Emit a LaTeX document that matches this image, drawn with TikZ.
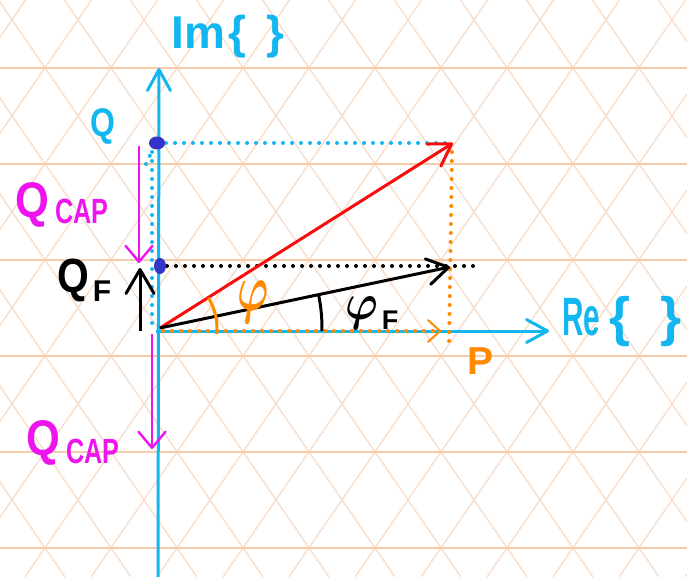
\documentclass[tikz,border=0pt]{standalone}
\usepackage{fontspec}
\setmainfont{Liberation Sans}
\usepackage{graphicx}
\usepackage{bm}
\usetikzlibrary{arrows.meta}
\definecolor{axcyan}{RGB}{20,182,240}
\definecolor{gridd}{RGB}{249,220,200}
\definecolor{gridh}{RGB}{246,204,170}
\definecolor{mag}{RGB}{238,20,238}
\definecolor{orng}{RGB}{255,138,0}
\definecolor{dotblue}{RGB}{52,52,200}
\definecolor{vred}{RGB}{250,12,12}
\tikzset{
  gridline/.style={draw=gridd, line width=1.3pt},
  gridhline/.style={draw=gridh, line width=1.7pt},
  axisline/.style={draw=axcyan, line width=3pt, -{Straight Barb[length=21pt,width=23pt,line width=3pt,round]}},
  vecline/.style={line width=3pt, -{Straight Barb[length=21pt,width=26pt,line width=3pt,round]}},
  magline/.style={draw=mag, line width=2.4pt, -{Straight Barb[length=16pt,width=27pt,line width=2.4pt,round]}},
  qfline/.style={draw=black, line width=3pt, -{Straight Barb[length=24pt,width=28pt,line width=3pt,round]}},
  dotline/.style={line width=4pt, line cap=round, dash pattern=on 0pt off 9pt},
  porarrow/.style={-{Straight Barb[length=12pt,width=22pt,line width=2pt,round]}},
  lbl/.style={inner sep=0pt, outer sep=0pt},
  blob/.style={fill=dotblue},
  anglearc/.style={line width=3pt}
}
\begin{document}
\begin{tikzpicture}[x=1pt,y=-1pt]
\useasboundingbox (0,0) rectangle (687,577);
% background grid
\begin{scope}
\clip (0,0) rectangle (687,577);
\fill[white] (0,0) rectangle (687,577);
\foreach \k in {-8,...,17} {
  \draw[gridline] ({45+66*\k-46.55},0) -- ({45+66*\k+350.1},577);
  \draw[gridline] ({45+66*\k+46.55},0) -- ({45+66*\k-350.1},577);
}
\foreach \yy in {67.7,163.7,259.7,355.7,451.7,547.7} {
  \draw[gridhline] (0,\yy) -- (687,\yy);
}
\end{scope}

% points
\coordinate (O) at (160,328);
\coordinate (imbot) at (158,577);
\coordinate (imtop) at (159,68);
\coordinate (restart) at (156,331);
\coordinate (reend) at (549,331);
\coordinate (S) at (453,143);
\coordinate (F) at (450,267);
\coordinate (P) at (441,331);
\coordinate (qd) at (157,143);
\coordinate (qfd) at (160,266);

% axes
\draw[axisline] (imbot) -- (imtop);
\draw[axisline] (restart) -- (reend);

% dotted projections
\coordinate (c1) at (166,143);
\draw[dotline, axcyan] (c1) -- (S);
\coordinate (c2) at (152,152);
\coordinate (c3) at (152,330);
\draw[dotline, axcyan] (c2) -- (c3);
\coordinate (c4) at (146,164);
\coordinate (c5) at (153,149);
\draw[dotline, axcyan] (c4) -- (c5);
\coordinate (b1) at (167,266);
\coordinate (b2) at (474,266);
\draw[dotline, black] (b1) -- (b2);
\coordinate (o1) at (452,152);
\coordinate (o2) at (449,347);
\draw[dotline, orng] (o1) -- (o2);
\coordinate (o3) at (163,331);
\draw[dotline, orng, porarrow] (o3) -- (P);

% vectors
\draw[vecline, vred] (O) -- (S);
\draw[vecline, black] (O) -- (F);

% reactive power arrows
\coordinate (m1) at (139,146);
\coordinate (m2) at (139,263);
\draw[magline] (m1) -- (m2);
\coordinate (m3) at (152,334);
\coordinate (m4) at (152,449);
\draw[magline] (m3) -- (m4);
\coordinate (k1) at (140,331);
\coordinate (k2) at (140,268);
\draw[qfline] (k1) -- (k2);

% blue dots
\fill[blob] (qd) ellipse [x radius=8, y radius=6.5];
\fill[blob] (qfd) ellipse [x radius=6, y radius=8];

% angle arcs
\draw[anglearc, orng] (O) ++(-32:57) arc[start angle=-32, end angle=6, radius=57];
\draw[anglearc, black] (O) ++(-12:162) arc[start angle=-12, end angle=1, radius=162];

% labels
\node[lbl, text=axcyan, font=\fontsize{46}{46}\selectfont\bfseries] (imlabel) at (228,37) {Im\hspace{4pt}\{\hspace{20pt}\}};
\node[lbl, text=axcyan, font=\fontsize{54}{54}\selectfont\bfseries] (relabel) at (622,322) {\scalebox{0.55}[1]{Re}\hspace{10pt}\{\hspace{30pt}\}};
\node[lbl, text=axcyan, font=\fontsize{40}{40}\selectfont\bfseries] (qlabel) at (103,126) {\scalebox{0.8}[1]{Q}};
\node[lbl, text=mag, font=\fontsize{50}{50}\selectfont\bfseries] (qcap1) at (32,205) {\scalebox{0.87}[1]{Q}};
\node[lbl, text=mag, font=\fontsize{35}{35}\selectfont\bfseries] (cap1) at (82,211) {\scalebox{0.72}[1]{CAP}};
\node[lbl, text=mag, font=\fontsize{50}{50}\selectfont\bfseries] (qcap2) at (43,443) {\scalebox{0.87}[1]{Q}};
\node[lbl, text=mag, font=\fontsize{35}{35}\selectfont\bfseries] (cap2) at (93,451) {\scalebox{0.72}[1]{CAP}};
\node[lbl, text=black, font=\fontsize{48}{48}\selectfont\bfseries] (qf) at (73,280) {\scalebox{0.85}[1]{Q}};
\node[lbl, text=black, font=\fontsize{30}{30}\selectfont\bfseries] (qfsub) at (102,291) {F};
\node[lbl, text=orng, font=\fontsize{39}{39}\selectfont\bfseries] (plabel) at (480,361) {P};
\node[lbl, text=orng] (philabel) at (253,302) {\scalebox{4.2}[6.6]{$\bm{\varphi}$}};
\node[lbl, text=black] (phif) at (362,313) {\scalebox{4.4}[5.1]{$\bm{\varphi}$}};
\node[lbl, text=black, font=\fontsize{27}{27}\selectfont\bfseries] (phifsub) at (390,320) {F};
\end{tikzpicture}
\end{document}
